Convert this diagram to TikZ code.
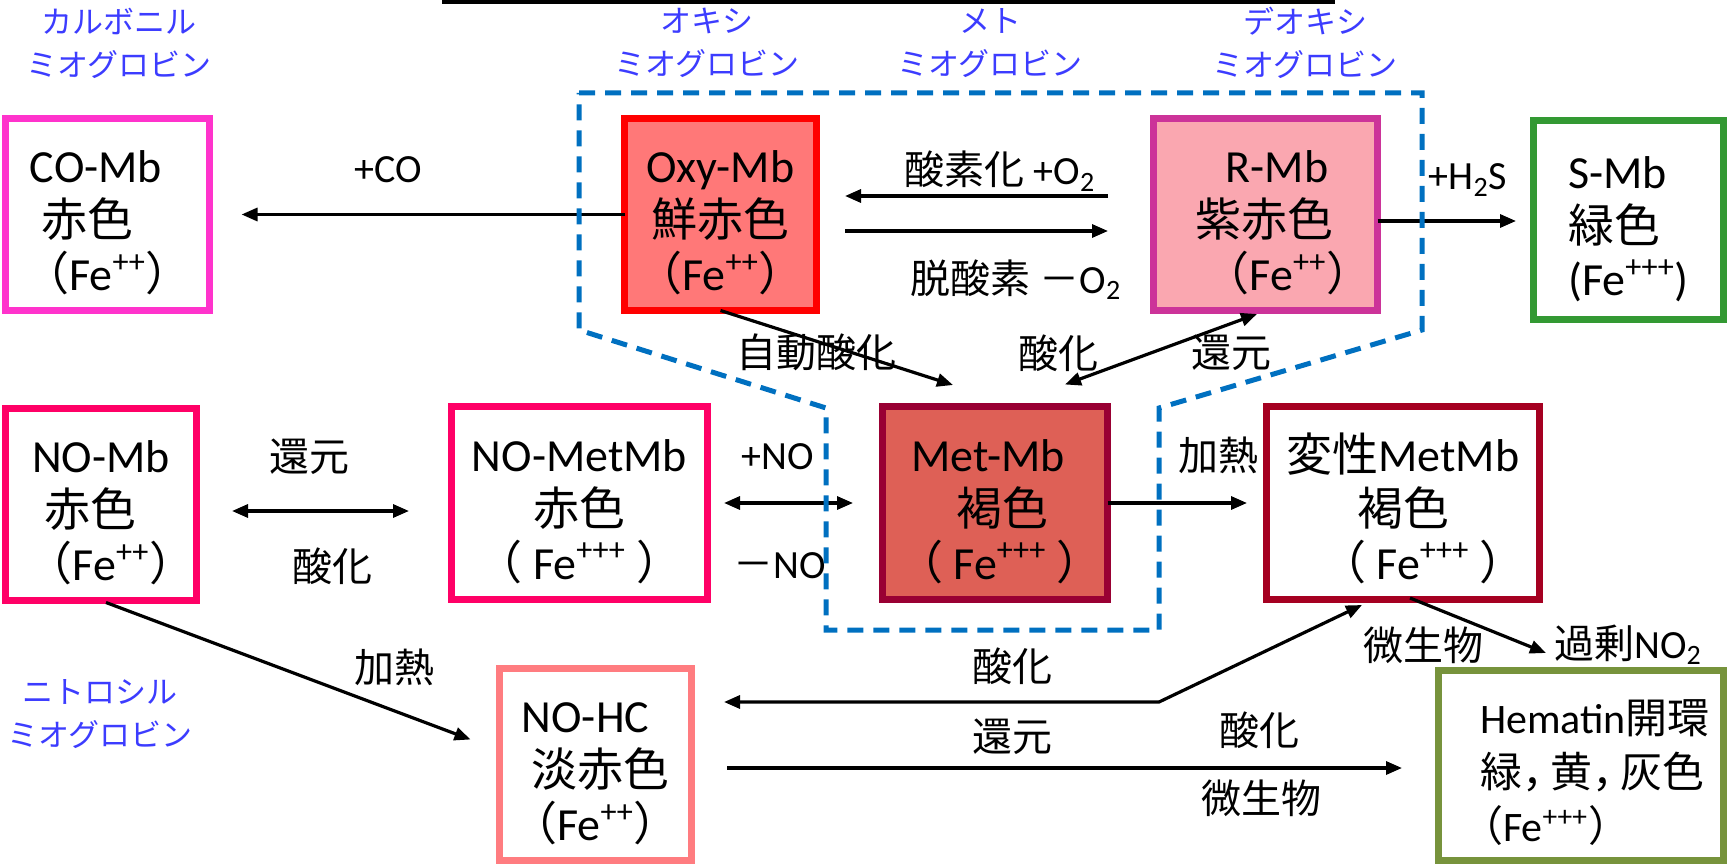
\documentclass[tikz,border=0pt]{standalone}
\usepackage{fontspec}
\setmainfont{Carlito}
\newfontfamily\jp{Noto Sans CJK JP}
\newfontfamily\jph[RawFeature=+halt]{Noto Sans CJK JP}
\usetikzlibrary{arrows.meta,calc}
\newcommand{\jt}[1]{{\jp #1}}
\newcommand{\topst}{\rule{0pt}{27pt}}
\newcommand{\botst}{\rule[-5pt]{0pt}{5pt}}
\newcommand{\hcomma}{{\jph ，}\hspace{0.17em}}
\definecolor{cCO}{HTML}{FF33CC}
\definecolor{cOxyB}{HTML}{FF0000}
\definecolor{cOxyF}{HTML}{FF7878}
\definecolor{cRB}{HTML}{CC3399}
\definecolor{cRF}{HTML}{FAA7B0}
\definecolor{cS}{HTML}{339933}
\definecolor{cNO}{HTML}{FF0066}
\definecolor{cMetB}{HTML}{990033}
\definecolor{cMetF}{HTML}{DE6056}
\definecolor{cHen}{HTML}{A50021}
\definecolor{cHC}{HTML}{FF7C80}
\definecolor{cHem}{HTML}{77933C}
\definecolor{cDash}{HTML}{0070C0}
\definecolor{cBlue}{HTML}{3C3CFF}
\tikzset{
  box/.style={draw, line width=3.5pt, inner sep=0pt, outer sep=0pt, align=center,
    font=\fontsize{23pt}{27pt}\selectfont},
  lbl/.style={inner sep=0pt, font=\fontsize{20pt}{24pt}\selectfont},
  jlbl/.style={inner sep=0pt, font=\jp\fontsize{20pt}{24pt}\selectfont},
  blbl/.style={inner sep=0pt, align=center, text=cBlue, font=\jp\fontsize{15.5pt}{21.5pt}\selectfont},
  arr/.style={-{Triangle[length=8pt,width=6.5pt]}, line width=1.6pt},
  darr/.style={{Triangle[length=8pt,width=6.5pt]}-{Triangle[length=8pt,width=6.5pt]}, line width=1.6pt},
  dashbox/.style={draw=cDash, line width=2.5pt, dash pattern=on 8pt off 5pt},
}
\begin{document}
\begin{tikzpicture}[x=0.5pt,y=-0.5pt]
\useasboundingbox (0,0) rectangle (1729,866);

% cut-off title box at the top
\draw[line width=2pt] (444,-12) -- (444,2) -- (1333,2) -- (1333,-12);

% blue katakana labels
\node[blbl] (bco) at (119,43) {カルボニル\\ミオグロビン};
\node[blbl] (boxy) at (707,43) {オキシ\\ミオグロビン};
\node[blbl] (bmet) at (990,43) {メト\\ミオグロビン};
\node[blbl] (bdeo) at (1305,43) {デオキシ\\ミオグロビン};
\node[blbl] (bno) at (100,714) {ニトロシル\\ミオグロビン};

% boxes
\node[box, draw=cCO, minimum width=102pt, minimum height=96pt] (co) at (107.5,214.5)
  {\hspace*{-11.5pt}\topst CO-Mb\\\hspace*{-20pt}\jt{赤色}\\\jt{（}Fe\textsuperscript{++}\jt{）}\botst};
\node[box, draw=cOxyB, fill=cOxyF, minimum width=96pt, minimum height=96pt] (oxy) at (720.5,214.5)
  {\topst Oxy-Mb\\\jt{鮮赤色}\\\jt{（}Fe\textsuperscript{++}\jt{）}\botst};
\node[box, draw=cRB, fill=cRF, minimum width=112pt, minimum height=96pt] (rmb) at (1265.5,214.5)
  {\hspace*{11.5pt}\topst R-Mb\\\hspace*{-1.5pt}\jt{紫赤色}\\\hspace*{22.5pt}\jt{（}Fe\textsuperscript{++}\jt{）}\botst};
\node[box, draw=cS, align=left, minimum width=95pt, minimum height=99.5pt] (smb) at (1628.5,220)
  {\topst S-Mb\\\jt{緑色}\\(Fe\textsuperscript{+++})\botst};
\node[box, draw=cNO, minimum width=95.5pt, minimum height=96pt] (nomb) at (101,504.5)
  {\topst NO-Mb\\\hspace*{-11pt}\jt{赤色}\\\hspace*{10pt}\jt{（}Fe\textsuperscript{++}\jt{）}\botst};
\node[box, draw=cNO, minimum width=128pt, minimum height=96.5pt] (nometmb) at (579.5,503)
  {\topst NO-MetMb\\\jt{赤色}\\\jt{（} Fe\textsuperscript{+++} \jt{）}\botst};
\node[box, draw=cMetB, fill=cMetF, minimum width=112.5pt, minimum height=96.5pt] (metmb) at (995,503)
  {\hspace*{-7pt}\topst Met-Mb\\\hspace*{7pt}\jt{褐色}\\\hspace*{5pt}\jt{（} Fe\textsuperscript{+++} \jt{）}\botst};
\node[box, draw=cHen, minimum width=136.5pt, minimum height=96.5pt] (hen) at (1403,503)
  {\topst\jt{変性}MetMb\\\jt{褐色}\\\hspace*{20pt}\jt{（} Fe\textsuperscript{+++} \jt{）}\botst};
\node[box, draw=cHC, minimum width=96pt, minimum height=96pt] (nohc) at (595.5,764.5)
  {\hspace*{-10pt}\topst NO-HC\\\hspace*{5pt}\jt{淡赤色}\\\jt{（}Fe\textsuperscript{++}\jt{）}\botst};
\node[box, draw=cHem, align=left, minimum width=142.5pt, minimum height=95pt,
  font=\fontsize{21pt}{27pt}\selectfont] (hem) at (1581,765.5)
  {\hspace*{14pt}\topst Hematin\jt{開環}\\\hspace*{14pt}\jt{緑}\hcomma\jt{黄}\hcomma\jt{灰色}\\\hspace*{4.5pt}\jt{（}Fe\textsuperscript{+++}\jt{）}\botst};

% labels
\node[lbl, anchor=base] (lco) at (388,183) {+CO};
\node[lbl, anchor=base] (lo2a) at (1000,185) {\jt{酸素化} +O\textsubscript{2}};
\node[lbl, anchor=base] (lo2b) at (1016,293) {\jt{脱酸素 －}O\textsubscript{2}};
\node[lbl, anchor=base] (lh2s) at (1468,190) {+H\textsubscript{2}S};
\node[jlbl] (lauto) at (816,352) {自動酸化};
\node[jlbl] (lox1) at (1058,353) {酸化};
\node[jlbl] (lred1) at (1231,353) {還元};
\node[jlbl] (lred2) at (309,457) {還元};
\node[jlbl] (lox2) at (332,566) {酸化};
\node[lbl, anchor=base] (lnop) at (778,469) {+NO};
\node[lbl, anchor=base] (lnom) at (780,578) {\jt{－}NO};
\node[jlbl] (lheat1) at (1218,455) {加熱};
\node[jlbl] (lheat2) at (394,667) {加熱};
\node[jlbl] (lox3) at (1012,666) {酸化};
\node[jlbl] (lred3) at (1012,737) {還元};
\node[jlbl] (lox4) at (1259,730) {酸化};
\node[jlbl] (lmic1) at (1261,798) {微生物};
\node[jlbl] (lmic2) at (1423,645) {微生物};
\node[lbl, anchor=base west] (lno2) at (1554,658) {\jt{過剰}NO\textsubscript{2}};

% connectors
\draw[arr, shorten >=16pt] (oxy.west) -- (co.east);
\draw[arr] ($(rmb.west)+(-45.5,-18.5)$) -- ($(oxy.east)+(28.5,-18.5)$);
\draw[arr] ($(oxy.east)+(28.5,16.5)$) -- ($(rmb.west)+(-45.5,16.5)$);
\draw[arr] ($(rmb.east)+(0,6.5)$) -- ($(smb.west)+(-17.5,1)$);
\draw[arr] (oxy.south) -- ($(metmb.north)+(-42,-21.5)$);
\draw[darr] ($(metmb.north)+(70,-22)$) -- ($(rmb.south)+(-8.5,3.5)$);
\draw[darr] ($(nomb.east)+(35.5,6.5)$) -- ($(nometmb.west)+(-42.5,8)$);
\draw[darr, shorten <=8.25pt, shorten >=14.75pt] (nometmb.east) -- (metmb.west);
\draw[arr, shorten >=9.75pt] (metmb.east) -- (hen.west);
\draw[arr] ($(nomb.south)+(5,2)$) -- ($(nohc.west)+(-29,-25)$);
\coordinate (c1) at (1159,702);
\draw[darr] ($(nohc.east)+(32.5,-62.5)$) -- (c1) -- ($(hen.south)+(-41,5.5)$);
\draw[arr] ($(nohc.east)+(35.5,3.5)$) -- ($(hem.west)+(-36.5,2.5)$);
\draw[arr] ($(hen.south)+(7,-1.5)$) -- ($(lno2.base west)+(-8,-5)$);

% dashed outline
\draw[dashbox] (579,93) -- (1422,93) -- (1422,330) -- (1159,408) -- (1159,630)
  -- (826,630) -- (826,408) -- (579,330) -- cycle;
\end{tikzpicture}
\end{document}
